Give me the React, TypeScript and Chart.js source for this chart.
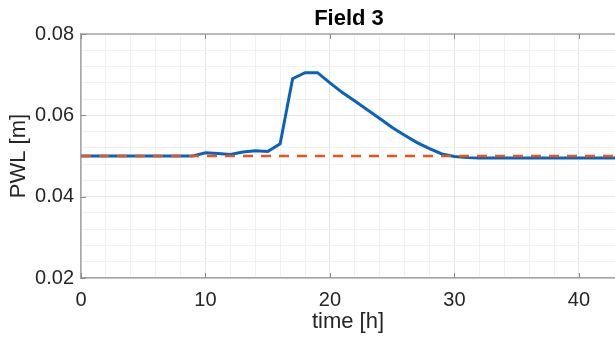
import React, { useEffect, useRef } from "react";
import { Chart, registerables } from "chart.js";

Chart.register(...registerables);

const timeHours = [0, 1, 2, 3, 4, 5, 6, 7, 8, 9, 10, 11, 12, 13, 14, 15, 16, 17, 18, 19, 20, 21, 22, 23, 24, 25, 26, 27, 28, 29, 30, 31, 32, 33, 34, 35, 36, 37, 38, 39, 40, 41, 42, 43];
const pwlSimulated = [0.05, 0.05, 0.05, 0.05, 0.05, 0.05, 0.05, 0.05, 0.05, 0.05, 0.0508, 0.0506, 0.0504, 0.051, 0.0513, 0.0511, 0.053, 0.069, 0.0705, 0.0705, 0.068, 0.0656, 0.0635, 0.0614, 0.0592, 0.057, 0.0551, 0.0533, 0.0518, 0.0505, 0.0499, 0.0496, 0.0495, 0.0495, 0.0495, 0.0495, 0.0495, 0.0495, 0.0495, 0.0495, 0.0495, 0.0495, 0.0495, 0.0495];
const pwlReference = [0.05, 0.05];
const referenceTimes = [0, 43];
const yTickLabels = [0.02, 0.04, 0.06, 0.08];
const xTickLabels = [0, 10, 20, 30, 40];
const titleText = "Field 3";
const xTitle = "time [h]";
const yTitle = "PWL [m]";

const FONT = "'Liberation Sans', Arial, sans-serif";

export default function App() {
  const ref = useRef<HTMLCanvasElement>(null);
  useEffect(() => {
    document.body.style.margin = "0";
    const canvas = ref.current!;
    const isMajorY = (v: number) => yTickLabels.some((t) => Math.abs(t - v) < 1e-9);
    const isMajorX = (v: number) => xTickLabels.some((t) => Math.abs(t - v) < 1e-9);
    const decorPlugin = {
      id: "matlabDecor",
      afterDraw(chart: any) {
        const { ctx, chartArea, scales } = chart;
        ctx.save();
        ctx.strokeStyle = "#a6a6a6";
        ctx.lineWidth = 1.5;
        ctx.beginPath();
        ctx.moveTo(chartArea.left, chartArea.top);
        ctx.lineTo(chartArea.right, chartArea.top);
        ctx.stroke();
        ctx.strokeStyle = "#8a8a8a";
        ctx.lineWidth = 1;
        ctx.beginPath();
        xTickLabels.forEach((t) => {
          const px = Math.round(scales.x.getPixelForValue(t)) + 0.5;
          ctx.moveTo(px, chartArea.bottom);
          ctx.lineTo(px, chartArea.bottom - 5);
          ctx.moveTo(px, chartArea.top);
          ctx.lineTo(px, chartArea.top + 5);
        });
        yTickLabels.forEach((t) => {
          const py = Math.round(scales.y.getPixelForValue(t)) + 0.5;
          ctx.moveTo(chartArea.left, py);
          ctx.lineTo(chartArea.left + 5, py);
        });
        ctx.stroke();
        ctx.font = `bold 22px ${FONT}`;
        ctx.fillStyle = "#000";
        ctx.textAlign = "center";
        ctx.textBaseline = "alphabetic";
        ctx.fillText(titleText, 349, 25);
        ctx.restore();
      },
    };
    const chart = new Chart(canvas, {
      type: "line",
      data: {
        datasets: [
          {
            data: referenceTimes.map((t, i) => ({ x: t, y: pwlReference[i] })),
            borderColor: "#e8541c",
            borderWidth: 2.5,
            borderDash: [10, 8],
            pointRadius: 0,
            tension: 0,
          },
          {
            data: timeHours.map((t, i) => ({ x: t, y: pwlSimulated[i] })),
            borderColor: "#0a62bf",
            borderWidth: 3,
            pointRadius: 0,
            tension: 0,
          },
        ],
      },
      options: {
        animation: false,
        responsive: false,
        maintainAspectRatio: false,
        layout: { padding: { top: 34, right: 0, left: 0, bottom: 8 } },
        plugins: { legend: { display: false }, tooltip: { enabled: false }, title: { display: false } },
        scales: {
          x: {
            type: "linear",
            min: 0,
            max: 42.9,
            border: { color: "#a6a6a6", width: 1.5 },
            grid: {
              color: (c: any) => (isMajorX(c.tick?.value) ? "#e4e4e4" : "#f1f1f1"),
              lineWidth: 1,
              drawTicks: false,
            },
            ticks: {
              stepSize: 2,
              autoSkip: false,
              maxRotation: 0,
              padding: 10,
              color: "#262626",
              font: { family: FONT, size: 20 },
              callback: (v: any) => (isMajorX(Number(v)) ? String(v) : ""),
            },
            title: {
              display: true,
              text: xTitle,
              color: "#262626",
              font: { family: FONT, size: 22 },
              padding: { top: 0, bottom: 0 },
            },
            afterFit: (s: any) => {
              s.height = 57;
              s.paddingLeft = 0;
              s.paddingRight = 0;
            },
          },
          y: {
            min: 0.02,
            max: 0.08,
            border: { color: "#a6a6a6", width: 1.5 },
            grid: {
              color: (c: any) => (isMajorY(c.tick?.value) ? "#e4e4e4" : "#f1f1f1"),
              lineWidth: 1,
              drawTicks: false,
            },
            ticks: {
              stepSize: 0.004,
              autoSkip: false,
              padding: 7,
              color: "#262626",
              font: { family: FONT, size: 20 },
              callback: (v: any) => (isMajorY(Number(v)) ? Number(v).toFixed(2) : ""),
            },
            title: {
              display: true,
              text: yTitle,
              color: "#262626",
              font: { family: FONT, size: 22 },
              padding: { top: 6, bottom: 0 },
            },
            afterFit: (s: any) => {
              s.width = 81;
              s.paddingTop = 0;
              s.paddingBottom = 0;
            },
          },
        },
      },
      plugins: [decorPlugin],
    });
    return () => chart.destroy();
  }, []);
  return <canvas ref={ref} width={615} height={343} style={{ display: "block" }} />;
}
